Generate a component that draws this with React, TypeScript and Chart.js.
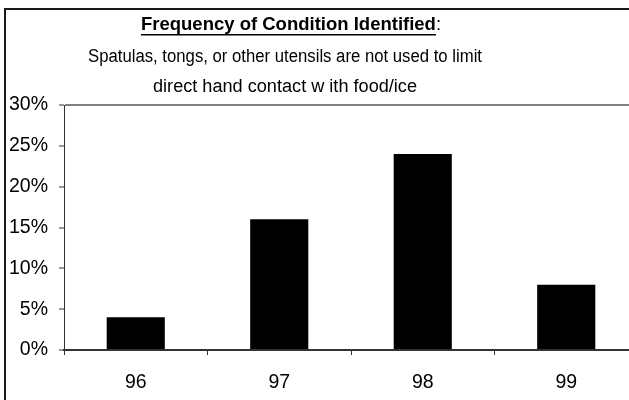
import React, { useEffect, useRef } from "react";
import { Chart, registerables } from "chart.js";

Chart.register(...registerables);

const categories = ["96", "97", "98", "99"];
const values = [4, 16, 24, 8];
const yMin = 0;
const yMax = 30;
const yStep = 5;
const titleBold = "Frequency of Condition Identified";
const titleSuffix = ":";
const subtitleLines = [
  "Spatulas, tongs, or other utensils are not used to limit",
  "direct hand contact w ith food/ice",
];

const FONT = '"Liberation Sans", Arial, sans-serif';
const TITLE_CX = 291;
const SUB_CX = 285;
const SUB_WIDTHS = [394, 264];

function fitText(ctx: any, text: string, cx: number, y: number, target: number) {
  const w = ctx.measureText(text).width;
  const sx = Math.min(1.05, target / w);
  ctx.save();
  ctx.translate(cx, y);
  ctx.scale(sx, 1);
  ctx.textAlign = "center";
  ctx.fillText(text, 0, 0);
  ctx.restore();
}

const framePlugin = {
  id: "excelFrame",
  beforeDraw(chart: any) {
    const ctx = chart.ctx;
    ctx.save();
    ctx.fillStyle = "#ffffff";
    ctx.fillRect(0, 0, chart.width, chart.height);
    ctx.strokeStyle = "#1a1a1a";
    ctx.lineWidth = 2;
    ctx.strokeRect(5, 9, chart.width + 20, chart.height + 20);

    ctx.fillStyle = "#000";
    ctx.textBaseline = "middle";
    ctx.textAlign = "left";
    ctx.font = `bold 18.5px ${FONT}`;
    const wb = ctx.measureText(titleBold).width;
    ctx.font = `18.5px ${FONT}`;
    const ws = ctx.measureText(titleSuffix).width;
    const start = TITLE_CX - (wb + ws) / 2;
    ctx.font = `bold 18.5px ${FONT}`;
    ctx.fillText(titleBold, start, 25);
    ctx.fillRect(start, 34, wb, 1.5);
    ctx.font = `18.5px ${FONT}`;
    ctx.fillText(titleSuffix, start + wb, 25);

    ctx.font = `18px ${FONT}`;
    fitText(ctx, subtitleLines[0], SUB_CX, 57, SUB_WIDTHS[0]);
    fitText(ctx, subtitleLines[1], SUB_CX, 87, SUB_WIDTHS[1]);
    ctx.restore();
  },
};

export default function App() {
  const ref = useRef<HTMLCanvasElement | null>(null);

  useEffect(() => {
    if (!ref.current) return;
    const chart = new Chart(ref.current, {
      type: "bar",
      data: {
        labels: categories,
        datasets: [
          {
            data: values,
            backgroundColor: "#000000",
            borderWidth: 0,
            barPercentage: 0.405,
            categoryPercentage: 1,
          },
        ],
      },
      options: {
        responsive: false,
        animation: false,
        devicePixelRatio: 1,
        layout: { padding: { left: 0, top: 105, right: 42, bottom: 0 } },
        plugins: {
          legend: { display: false },
          tooltip: { enabled: false },
          title: { display: false },
        },
        scales: {
          x: {
            afterFit: (s: any) => {
              s.height = 50;
            },
            grid: {
              display: true,
              drawOnChartArea: false,
              tickLength: 5,
              tickColor: "#333",
              tickWidth: 1,
              offset: true,
            },
            border: { display: true, color: "#333", width: 2 },
            ticks: {
              color: "#000",
              font: { family: FONT, size: 19.5 },
              padding: 16,
            },
          },
          y: {
            min: yMin,
            max: yMax,
            afterFit: (s: any) => {
              s.width = 64;
            },
            grid: {
              color: (c: any) => (c.tick && c.tick.value === yMax ? "#808080" : "rgba(0,0,0,0)"),
              lineWidth: 2,
              tickColor: "#333",
              tickLength: 5,
              tickWidth: 1,
            },
            border: { display: true, color: "#333", width: 1 },
            ticks: {
              stepSize: yStep,
              color: "#000",
              font: { family: FONT, size: 19.5 },
              padding: 11,
              callback: (v: any) => `${v}%`,
            },
          },
        },
      },
      plugins: [framePlugin],
    });
    return () => chart.destroy();
  }, []);

  return (
    <div
      style={{
        position: "fixed",
        left: 0,
        top: 0,
        width: 629,
        height: 400,
        overflow: "hidden",
        background: "#fff",
      }}
    >
      <canvas ref={ref} width={680} height={400} style={{ display: "block" }} />
    </div>
  );
}
